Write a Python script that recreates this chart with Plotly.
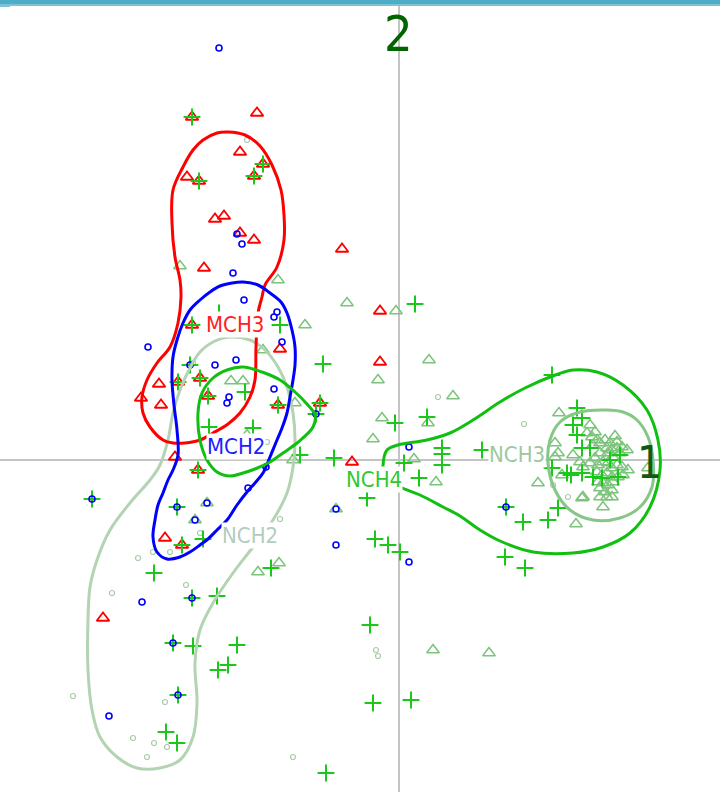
import plotly.graph_objects as go

# ---- sample scores on the first two axes ----
# MCH3 (red triangles)
mch3_x = [-2.07, -1.42, -1.59, -1.36, -2.12, -2.00, -1.45, -1.84, -1.75, -1.59, -1.45, -0.57,
          -1.95, -0.19, -2.07, -0.19, -1.19, -2.40, -2.21, -1.99, -1.91, -1.21, -0.79, -2.58,
          -2.38, -2.24, -2.01, -0.47, -2.34, -2.17, -2.96]
mch3_y = [3.43, 3.47, 3.08, 2.96, 2.83, 2.79, 2.84, 2.41, 2.44, 2.27, 2.20, 2.11,
          1.92, 1.49, 1.35, 0.98, 1.11, 0.76, 0.78, 0.82, 0.64, 0.55, 0.57, 0.62,
          0.55, 0.03, -0.10, -0.02, -0.78, -0.85, -1.58]

# MCH2 (blue circles)
mch2_x = [-1.80, -1.62, -1.57, -1.66, -1.55, -1.25, -1.22, -2.51, -1.17, -1.63, -1.84, -2.09,
          -1.70, -1.72, -1.25, -0.83, -1.33, -3.07, -2.22, -1.92, -1.51, -2.04, -0.63, -0.63,
          0.10, 0.10, -2.57, -2.07, -2.26, -2.21, -2.90, 1.07]
mch2_y = [4.12, 2.26, 2.16, 1.87, 1.60, 1.43, 1.48, 1.13, 1.18, 1.00, 0.95, 0.95,
          0.63, 0.57, 0.71, 0.46, -0.07, -0.39, -0.47, -0.43, -0.28, -0.60, -0.49, -0.85,
          0.13, -1.02, -1.42, -1.38, -1.83, -2.35, -2.56, -0.47]

# NCH2 (pale circles)
nch2_x = [-1.52, -2.06, -1.32, -1.99, -1.19, -2.46, -2.29, -2.61, -2.13, -2.87, -3.26, -2.34,
          -2.66, -2.45, -2.32, -2.52, -1.06, -0.23, -0.21, 0.39, 1.25, 1.54, 1.69, -1.59]
nch2_y = [3.20, 0.97, 0.18, -0.73, -0.59, -0.92, -0.92, -0.98, -1.25, -1.33, -2.36, -2.42,
          -2.78, -2.83, -2.87, -2.97, -2.97, -1.90, -1.96, 0.63, 0.36, -0.25, -0.37, 1.30]

# NCH3 (light green triangles)
nch3_x = [-2.19, -1.21, -0.52, -0.03, -0.94, -1.36, -1.68, -1.56, -1.04, -0.21, 0.30, 0.54,
          -0.17, 0.29, -0.26, -1.52, 0.15, 0.37, -1.41, -1.20, 0.34, 0.90, -1.06, -1.92,
          -2.04, -0.63, 1.60, 1.56, 1.56, 1.39, 1.84, 1.77, 2.49,
          1.91, 1.96, 1.88, 1.93, 1.98, 1.94, 2.01, 2.06, 2.11, 2.16, 2.18, 2.08, 2.13, 2.18,
          2.23, 2.09, 2.14, 2.21, 2.28, 2.01, 1.96, 1.91, 1.84, 1.81, 1.99, 2.04, 2.09, 2.13,
          2.18, 2.23, 2.29, 1.98, 2.03, 2.08, 2.13, 2.19, 2.24, 1.99, 2.04, 2.09, 2.14, 2.01,
          2.06, 2.13, 1.83, 1.74, 1.59, 1.63, 2.01, 2.08, 2.13, 2.04]
nch3_y = [1.94, 1.80, 1.57, 1.49, 1.35, 1.10, 0.79, 0.79, 0.57, 0.80, 1.00, 0.64,
          0.42, 0.37, 0.21, 0.25, 0.01, -0.22, -1.12, -1.03, -1.90, -1.93, 0.00, -0.43,
          -0.60, -0.49, 0.47, 0.17, 0.03, -0.23, -0.37, -0.64, -0.08,
          0.35, 0.28, 0.27, 0.23, 0.20, 0.15, 0.17, 0.20, 0.17, 0.24, 0.18, 0.12, 0.10, 0.12,
          0.13, 0.07, 0.03, 0.07, 0.10, 0.07, 0.02, -0.03, -0.07, -0.02, -0.05, -0.02, -0.03,
          -0.08, -0.05, -0.07, -0.10, -0.12, -0.15, -0.13, -0.17, -0.17, -0.15, -0.22, -0.23,
          -0.25, -0.22, -0.28, -0.32, -0.30, -0.38, 0.05, 0.07, -0.15, -0.37, -0.37, -0.37,
          -0.47]

# NCH4 (green crosses)
nch4_x = [-2.07, -1.36, -2.00, -1.45, -2.07, -2.21, -1.99, -1.91, -1.21, -0.79, -2.01, -2.17,
          -3.07, -2.22, -2.07, -2.26, -2.21, -0.83, 1.07, -2.09, -1.80, -1.19, -0.76, 0.16,
          -1.54, -1.90, -1.46, -0.99, -0.65, -0.04, 0.28, 0.05, 0.43, 0.43, 0.43, 0.83,
          0.20, -0.32, -0.24, -0.11, 0.01, -1.96, -2.45, -1.28, -1.82, -2.06, -1.62, -1.71,
          -1.81, -2.33, -2.22, -0.73, -0.29, -0.26, 0.12, 1.53, 1.06, 1.26, 1.24, 1.49,
          1.59, 1.78, 1.83, 1.74, 1.78, 1.83, 1.91, 2.21, 2.11, 1.53, 1.68, 1.72, 1.83,
          1.94, 2.03, 2.19]
nch4_y = [3.43, 2.96, 2.79, 2.84, 1.35, 0.78, 0.82, 0.64, 0.55, 0.57, -0.10, -0.85,
          -0.39, -0.47, -1.38, -1.83, -2.35, 0.46, -0.47, 0.95, 1.47, 1.35, 0.96, 1.56,
          0.68, 0.33, 0.32, 0.05, 0.02, 0.37, 0.43, -0.03, 0.12, 0.06, -0.05, 0.10,
          -0.18, -0.38, -0.79, -0.85, -0.92, -0.79, -1.13, -1.08, -1.36, -1.86, -1.85, -2.05,
          -2.10, -2.72, -2.83, -3.13, -1.65, -2.43, -2.40, 0.85, -0.97, -1.08, -0.62, -0.60,
          -0.48, 0.52, 0.42, 0.35, 0.25, 0.12, 0.12, 0.05, 0.00, -0.08, -0.13, -0.15, -0.13,
          -0.17, -0.18, -0.17]

# ---- group density outlines ----
mch3_cx = [-1.71, -1.54, -1.39, -1.27, -1.18, -1.15, -1.15, -1.22, -1.34, -1.37, -1.41, -1.43,
           -1.44, -1.49, -1.59, -1.71, -1.86, -1.99, -2.14, -2.26, -2.36, -2.49, -2.56, -2.57,
           -2.52, -2.42, -2.29, -2.21, -2.18, -2.19, -2.24, -2.27, -2.26, -2.16, -2.06, -1.96,
           -1.82, -1.71]
mch3_cy = [3.28, 3.25, 3.14, 2.95, 2.70, 2.45, 2.20, 1.93, 1.75, 1.63, 1.47, 1.13,
           0.80, 0.63, 0.47, 0.36, 0.27, 0.20, 0.17, 0.17, 0.20, 0.33, 0.47, 0.63,
           0.80, 0.97, 1.13, 1.37, 1.63, 1.80, 2.03, 2.37, 2.70, 2.93, 3.10, 3.20,
           3.27, 3.28]

mch2_cx = [-1.56, -1.41, -1.29, -1.18, -1.12, -1.07, -1.04, -1.04, -1.06, -1.09, -1.12, -1.17,
           -1.22, -1.29, -1.36, -1.44, -1.52, -1.62, -1.72, -1.82, -1.91, -1.99, -2.09, -2.19,
           -2.32, -2.42, -2.46, -2.44, -2.41, -2.36, -2.31, -2.26, -2.21, -2.22, -2.25, -2.27,
           -2.26, -2.22, -2.16, -2.09, -1.99, -1.89, -1.79, -1.67, -1.56]
mch2_cy = [1.78, 1.75, 1.67, 1.58, 1.47, 1.30, 1.13, 0.95, 0.80, 0.63, 0.47, 0.32,
           0.20, 0.03, -0.13, -0.23, -0.32, -0.45, -0.60, -0.70, -0.79, -0.85, -0.92, -0.97,
           -0.99, -0.92, -0.77, -0.60, -0.45, -0.33, -0.20, -0.10, 0.05, 0.30, 0.55, 0.80,
           1.03, 1.20, 1.37, 1.50, 1.60, 1.68, 1.74, 1.77, 1.78]

nch4a_cx = [-1.56, -1.37, -1.19, -1.04, -0.93, -0.84, -0.86, -1.02, -1.16, -1.29, -1.44, -1.56,
            -1.69, -1.82, -1.92, -1.99, -2.01, -1.97, -1.86, -1.72, -1.56]
nch4a_cy = [0.93, 0.88, 0.80, 0.68, 0.57, 0.45, 0.33, 0.17, 0.07, -0.02, -0.09, -0.13,
            -0.16, -0.12, 0.00, 0.20, 0.47, 0.67, 0.82, 0.90, 0.93]

nch4b_cx = [-0.16, -0.12, -0.01, 0.28, 0.51, 0.74, 1.01, 1.26, 1.51, 1.74, 1.98, 2.24,
            2.48, 2.59, 2.61, 2.51, 2.31, 2.04, 1.74, 1.34, 1.01, 0.81, 0.61, 0.44,
            0.21, 0.01, -0.10, -0.15, -0.16]
nch4b_cy = [-0.06, 0.10, 0.15, 0.20, 0.27, 0.40, 0.58, 0.72, 0.83, 0.90, 0.88, 0.75,
            0.50, 0.20, -0.10, -0.47, -0.73, -0.87, -0.93, -0.92, -0.81, -0.70, -0.56, -0.47,
            -0.35, -0.27, -0.20, -0.13, -0.06]

nch3_cx = [2.08, 2.24, 2.38, 2.49, 2.54, 2.53, 2.41, 2.21, 1.94, 1.71, 1.56, 1.49,
           1.51, 1.61, 1.81, 2.08]
nch3_cy = [0.50, 0.48, 0.40, 0.23, 0.00, -0.27, -0.47, -0.58, -0.60, -0.50, -0.30, -0.03,
           0.20, 0.38, 0.48, 0.50]

nch2_cx = [-1.67, -1.49, -1.34, -1.21, -1.12, -1.06, -1.04, -1.06, -1.12, -1.26, -1.46, -1.66,
           -1.86, -1.99, -2.04, -2.02, -2.06, -2.19, -2.39, -2.62, -2.82, -2.99, -3.07, -3.11,
           -3.11, -3.09, -3.02, -2.89, -2.69, -2.49, -2.39, -2.31, -2.26, -2.19, -2.09, -1.99,
           -1.84, -1.67]
nch2_cy = [1.23, 1.20, 1.10, 0.93, 0.73, 0.47, 0.20, -0.07, -0.33, -0.60, -0.87, -1.13,
           -1.43, -1.70, -2.03, -2.43, -2.77, -3.00, -3.08, -3.08, -2.97, -2.77, -2.50, -2.10,
           -1.60, -1.27, -1.00, -0.70, -0.43, -0.20, -0.05, 0.20, 0.47, 0.70, 0.92, 1.08,
           1.19, 1.23]

# ---- group labels ----
group_names = ["MCH3", "MCH2", "NCH2", "NCH4", "NCH3"]
group_lx = [-1.64, -1.63, -1.49, -0.25, 1.18]
group_ly = [1.36, 0.14, -0.75, -0.19, 0.06]

RED = "#FF0000"
BLUE = "#0000FF"
GREEN = "#19C819"
LIGHT_TRI = "#7CC47C"
PALE = "#A9CBA9"

fig = go.Figure()

# points
fig.add_trace(go.Scatter(x=nch2_x, y=nch2_y, mode="markers",
                         marker=dict(symbol="circle-open", size=5, color=PALE, line=dict(width=1.2))))
fig.add_trace(go.Scatter(x=nch3_x, y=nch3_y, mode="markers",
                         marker=dict(symbol="triangle-up-open", size=11, color=LIGHT_TRI, line=dict(width=1.5))))
fig.add_trace(go.Scatter(x=mch3_x, y=mch3_y, mode="markers",
                         marker=dict(symbol="triangle-up-open", size=11, color=RED, line=dict(width=1.8))))
fig.add_trace(go.Scatter(x=nch4_x, y=nch4_y, mode="markers",
                         marker=dict(symbol="cross-thin-open", size=12, color=GREEN, line=dict(width=2, color=GREEN))))
fig.add_trace(go.Scatter(x=mch2_x, y=mch2_y, mode="markers",
                         marker=dict(symbol="circle-open", size=6, color=BLUE, line=dict(width=1.6))))

# outlines
outlines = [
    (nch2_cx, nch2_cy, "#B3D3B3"),
    (nch3_cx, nch3_cy, "#86C686"),
    (mch3_cx, mch3_cy, RED),
    (mch2_cx, mch2_cy, BLUE),
    (nch4a_cx, nch4a_cy, "#11BF11"),
    (nch4b_cx, nch4b_cy, "#11BF11"),
]
for cx, cy, col in outlines:
    fig.add_trace(go.Scatter(x=cx, y=cy, mode="lines",
                             line=dict(color=col, width=3, shape="spline", smoothing=1.0)))

label_colors = ["#FF2020", "#2020FF", "#B2CCC0", "#2EC82E", "#9CC89C"]
label_font = "Liberation Sans Narrow, Arial Narrow, DejaVu Sans Condensed, sans-serif"
for name, lx, ly, col in zip(group_names, group_lx, group_ly, label_colors):
    fig.add_annotation(x=lx, y=ly, text=name, showarrow=False, bgcolor="white", borderpad=0,
                       font=dict(family=label_font, size=22, color=col))

# axis numbers
fig.add_annotation(x=-0.01, y=4.26, text="2", showarrow=False,
                   font=dict(family=label_font, size=50, color="#006400"))
fig.add_annotation(x=2.50, y=-0.02, text="1", showarrow=False,
                   font=dict(family=label_font, size=44, color="#0F5A10"))

# title bar along the top edge
fig.add_shape(type="rect", xref="paper", yref="paper", x0=0, x1=1, y0=1 - 6 / 792, y1=1 - 4 / 792,
              fillcolor="#7CC3D5", line=dict(width=0), layer="above")
fig.add_shape(type="rect", xref="paper", yref="paper", x0=0, x1=10 / 720, y0=1 - 7 / 792, y1=1 - 4 / 792,
              fillcolor="#7CC3D5", line=dict(width=0), layer="above")
fig.add_shape(type="rect", xref="paper", yref="paper", x0=0, x1=1, y0=1 - 4 / 792, y1=1,
              fillcolor="#4DADC7", line=dict(width=0), layer="above")

axis_common = dict(showgrid=False, showticklabels=False, ticks="", showline=False,
                   zeroline=True, zerolinecolor="#C4C4C4", zerolinewidth=2, fixedrange=True)
fig.update_xaxes(range=[-3.99, 3.21], **axis_common)
fig.update_yaxes(range=[-3.32, 4.60], **axis_common)

fig.update_layout(width=720, height=792, margin=dict(l=0, r=0, t=0, b=0),
                  paper_bgcolor="white", plot_bgcolor="white", showlegend=False)

fig.write_html("out.html")
